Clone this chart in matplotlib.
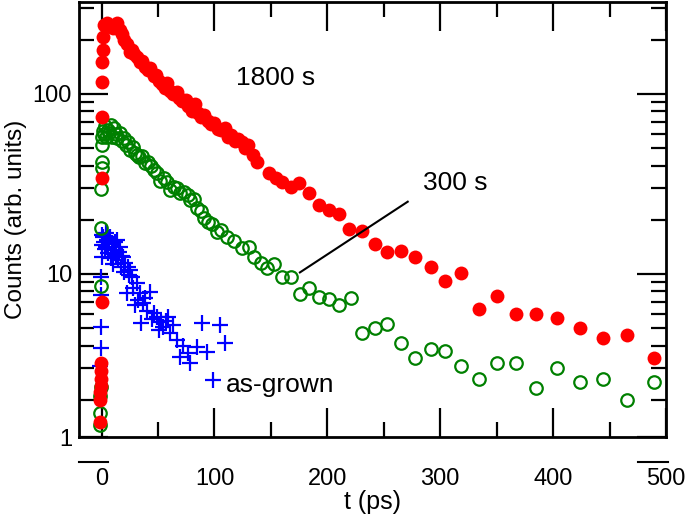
import numpy as np
import matplotlib
matplotlib.use("Agg")
import matplotlib.pyplot as plt
from matplotlib.ticker import MultipleLocator, LogLocator, NullFormatter
from matplotlib.lines import Line2D

plt.rcParams['font.family'] = ['Liberation Sans', 'DejaVu Sans']

# 1800 s anneal (filled red circles)
t_1800 = [-1.5, -1.2, -1.0, -0.8, -0.6, -0.4, -0.2, 0.0, 0.2, 0.4, 0.6, 0.8, 1.0, 1.3,
          2.5, 4.9, 7.5, 10.0, 12.0, 13.7, 16.0, 18.0, 20.0, 22.5, 25.0, 27.0, 29.0, 31.0,
          34.0, 36.0, 38.5, 41.0, 43.0, 46.0, 48.5, 51.0, 53.5, 56.0, 58.0, 61.0, 63.5,
          66.5, 69.0, 71.5, 74.5, 77.0, 80.0, 82.5, 85.0, 88.0, 91.0, 94.0, 97.0, 100.0,
          103.0, 106.0, 109.0, 112.0, 115.0, 118.0, 121.0, 124.0, 127.0, 130.0, 134.0,
          138.0, 148.6, 154.8, 160.0, 168.0, 175.0, 183.9, 192.7, 201.5, 210.3, 219.1,
          230.5, 242.0, 252.6, 265.0, 277.3, 291.4, 304.6, 318.8, 334.6, 350.5, 367.3,
          384.9, 403.4, 423.7, 444.0, 465.2, 489.0]
c_1800 = [1.5, 2.0, 2.2, 2.4, 2.6, 2.9, 3.2, 7.0, 34, 74, 116, 151, 176, 207,
          242, 248, 238, 232, 240, 248, 226, 214, 200, 190, 172, 175, 166, 160,
          150, 152, 141, 136, 140, 126, 128, 118, 114, 108, 115, 104, 100,
          102, 95, 91, 92, 86, 80, 88, 78, 74, 76, 71, 68, 69,
          64, 63, 65, 58, 59, 55, 56, 54, 50, 52, 46,
          41.9, 36.4, 34.1, 32.4, 30.4, 32.0, 28.2, 24.2, 22.7, 21.5, 17.8,
          17.3, 14.7, 13.3, 13.4, 12.4, 10.9, 9.1, 10.1, 6.4, 7.55, 6.0,
          6.0, 5.7, 5.0, 4.41, 4.6, 3.43]

# 300 s anneal (open green circles)
t_300 = [-1.4, -1.2, -1.0, -0.8, -0.6, -0.4, -0.2, 0.0, 0.2, 0.5, 0.8, 1.2,
         2.0, 3.0, 4.0, 5.5, 7.0, 8.5, 9.5, 11.0, 12.5, 14.0, 16.0, 18.0, 20.0,
         22.0, 23.5, 25.5, 27.5, 29.5, 31.5, 33.5, 36.0, 38.5, 41.0, 43.5, 46.0,
         49.0, 52.0, 55.0, 58.0, 61.0, 64.0, 67.0, 69.5, 73.0, 76.5, 78.5, 81.5,
         84.5, 88.0, 91.0, 94.0, 98.0, 102.0, 106.0, 110.7, 117.0, 124.8,
         131.0, 135.4, 141.5, 146.8, 153.0, 160.0, 168.0, 175.9, 183.9, 192.7,
         201.5, 210.3, 220.8, 230.5, 242.0, 252.6, 265.0, 277.3, 291.4, 304.6,
         318.8, 334.6, 350.5, 367.3, 384.9, 403.4, 423.7, 444.0, 465.2, 489.0]
c_300 = [1.45, 1.7, 2.1, 2.35, 8.6, 18, 29.6, 39, 42, 52, 58, 62,
         60, 66, 58, 63, 61, 67, 58, 65, 60, 57, 61, 55, 57,
         52, 54, 49, 51, 47, 46, 44.7, 45, 41.4, 42, 40, 37.8,
         36.5, 33, 34, 32.4, 29.3, 30.5, 30.0, 28.2, 28.5, 27.5, 25.8, 26,
         23.3, 22.5, 20.5, 19.4, 19.0, 17.1, 17.5, 16.1, 15.2, 13.9,
         14.1, 12.4, 11.5, 10.8, 11.4, 9.6, 9.6, 7.7, 8.4, 7.45,
         7.3, 6.7, 7.35, 4.7, 5.0, 5.28, 4.14, 3.42, 3.83, 3.73,
         3.08, 2.61, 3.2, 3.2, 2.33, 3.0, 2.51, 2.61, 2.0, 2.51]

# as-grown (blue crosses)
t_grown = [-1.0, -0.8, -0.6, -0.4, -0.2, 0.0, 0.3, 0.7, 1.3, 2.0, 2.8, 3.5, 4.3,
           5.0, 5.8, 6.5, 7.5, 8.3, 9.0, 10.1, 11.0, 12.0, 13.0, 13.7, 14.5,
           15.5, 16.3, 17.5, 18.3, 19.0, 20.0, 21.0, 22.5, 23.4, 24.5, 25.5,
           26.9, 28.0, 29.5, 31.3, 32.5, 34.0, 34.8, 36.6, 38.5, 40.5, 42.8,
           44.5, 46.5, 48.9, 50.5, 52.5, 54.2, 57.0, 58.6, 60.4, 63.1, 66.6,
           69.2, 72.0, 76.3, 78.0, 84.2, 88.6, 93.0, 98.3, 104.5, 108.9]
c_grown = [3.1, 3.9, 5.1, 7.6, 9.6, 12.5, 14.5, 16.5, 16.1, 15.0, 13.8, 16.8,
           14.2, 15.5, 13.0, 15.8, 16.1, 12.3, 14.8, 11.4, 13.6, 15.0, 12.8, 15.5,
           11.9, 13.2, 14.1, 11.0, 12.6, 12.4, 10.2, 11.5, 7.8, 10.9, 9.9, 10.5,
           9.6, 8.4, 6.7, 8.9, 7.2, 7.8, 5.34, 6.9, 7.4, 6.2, 7.9,
           5.6, 6.1, 5.77, 4.9, 5.4, 5.08, 5.5, 5.77, 4.7, 5.2, 4.3,
           3.46, 4.0, 3.64, 3.2, 3.93, 5.34, 3.69, 2.58, 5.2, 4.14]

fig = plt.figure(figsize=(6.85, 5.14), dpi=100)
ax = fig.add_axes([79/685, 77/514, 587/685, 435/514])

ax.plot(t_grown, c_grown, linestyle='none', marker='+', ms=11, mew=1.6, color='#0000ff')
ax.plot(t_300, c_300, linestyle='none', marker='o', ms=9, mew=1.6, mfc='none', mec='#008000')
ax.plot(t_1800, c_1800, linestyle='none', marker='o', ms=10, mew=0, color='#ff0000')

ax.set_yscale('log')
ax.set_xlim(-20, 500)
ax.set_ylim(1.243, 324)

ax.xaxis.set_major_locator(MultipleLocator(100))
ax.xaxis.set_minor_locator(MultipleLocator(50))
ax.set_yticks([1.243, 10, 100], ['1', '10', '100'])
ax.yaxis.set_minor_locator(LogLocator(base=10, subs=np.arange(2, 10)))
ax.yaxis.set_minor_formatter(NullFormatter())

ax.tick_params(which='both', direction='in', top=True, right=True, width=1.6, labelsize=17)
ax.tick_params(which='major', length=21)
ax.tick_params(which='minor', length=11)
ax.tick_params(axis='x', pad=22)
ax.tick_params(axis='y', pad=5)
for s in ax.spines.values():
    s.set_linewidth(2.0)

ax.set_xlabel('t (ps)', fontsize=18, labelpad=0)
ax.set_ylabel('Counts (arb. units)', fontsize=17.5, labelpad=4)

ax.text(119, 122, '1800 s', fontsize=19, va='center', ha='left')
ax.text(285, 32, '300 s', fontsize=19, va='center', ha='left')
ax.text(110, 2.42, 'as-grown', fontsize=19, va='center', ha='left')
ax.plot([175.7, 271.2], [10.2, 25.2], color='black', lw=1.5)

# short bars under the bottom axis
fig.add_artist(Line2D([79/685, 108/685], [52/514, 52/514], color='black', lw=1.5))
fig.add_artist(Line2D([638/685, 668/685], [52/514, 52/514], color='black', lw=1.5))

fig.savefig('out.png', dpi=100)
